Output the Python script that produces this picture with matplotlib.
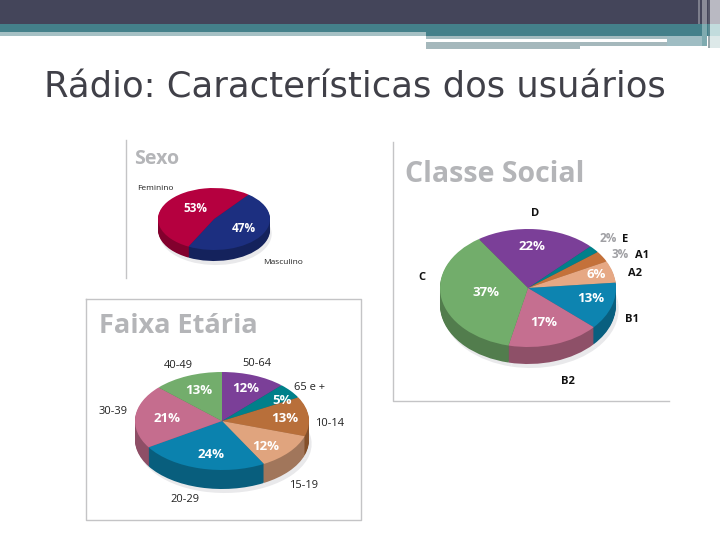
import matplotlib
matplotlib.use("Agg")
import matplotlib.pyplot as plt
from matplotlib.colors import to_rgb
from matplotlib.patches import Rectangle

W, H = 720, 540

sexo_values = [47, 53]
sexo_colors = ["#1c2f80", "#b5003f"]
sexo_pct = ["47%", "53%"]
sexo_names = ["Masculino", "Feminino"]

classe_values = [22, 2, 3, 6, 13, 17, 37]
classe_colors = ["#7b3f98", "#00808a", "#c4713a", "#e6a884", "#0d84b0", "#c56f90", "#72ad6b"]
classe_pct = ["22%", "2%", "3%", "6%", "13%", "17%", "37%"]
classe_names = ["D", "E", "A1", "A2", "B1", "B2", "C"]

faixa_values = [12, 5, 13, 12, 24, 21, 13]
faixa_colors = ["#7b3f98", "#00808a", "#b86f3a", "#e0a47e", "#0b82ae", "#c56d8e", "#73ad6c"]
faixa_pct = ["12%", "5%", "13%", "12%", "24%", "21%", "13%"]
faixa_names = ["50-64", "65 e +", "10-14", "15-19", "20-29", "30-39", "40-49"]

fig = plt.figure(figsize=(7.2, 5.4), dpi=100, facecolor="white")

# overlay in pixel coords for the slide furniture and all the text
bg = fig.add_axes([0, 0, 1, 1])
bg.set_xlim(0, W)
bg.set_ylim(H, 0)
bg.axis("off")


def band(x0, y0, x1, y1, color):
    bg.add_patch(Rectangle((x0, y0), x1 - x0, y1 - y0, color=color, lw=0))


# --- header ---
band(0, 0, W, 24, "#44455a")
band(0, 24, W, 32, "#44808a")
band(426, 32, W, 36, "#44808a")
band(0, 32, 426, 36, "#a5c0c4")
band(426, 36, 667, 39, "#a3bbbf")
band(426, 42, 580, 49, "#a5b8bc")
band(580, 42, 667, 46, "#a5b8bc")
band(667, 36, 707, 46, "#9fbdc3")
band(698, 0, 700, 24, "#7d7e8c")
band(702, 0, 707, 24, "#8a8b98")
band(702, 24, 707, 46, "#7fabb0")
band(708, 0, 710, 24, "#555668")
band(708, 24, 710, 36, "#5a8a92")
band(708, 36, 710, 48, "#9aa8ac")
band(710, 0, W, 24, "#b9b9c2")
band(710, 24, W, 36, "#c2dcdd")
band(710, 36, W, 48, "#dde9e9")

bg.text(354.5, 87, "Rádio: Características dos usuários", fontsize=25.5, color="#404048",
        ha="center", va="center", family="DejaVu Sans")

# --- panel frames ---
frame = "#c4c4c6"
bg.plot([125.5, 125.5], [140, 278], color=frame, lw=1)
bg.plot([392.5, 392.5, 669], [142, 400.5, 400.5], color=frame, lw=1)
bg.plot([86, 361, 361, 86, 86], [299, 299, 520, 520, 299], color=frame, lw=1)


def pie_3d(cx, cy, rx, ry, depth, values, colors, start):
    # squashed pie: dark copies stacked downward make the side wall
    pad = 1.15
    ax = fig.add_axes([(cx - rx * pad) / W, 1 - (cy + ry * pad + depth + 12) / H,
                       2 * rx * pad / W, (2 * ry * pad + depth + 12) / H])
    ax.patch.set_visible(False)
    dark = [tuple(c * 0.72 for c in to_rgb(col)) for col in colors]
    step = 1 / ry
    common = dict(startangle=start, counterclock=False)
    ax.pie(values, colors=["#e9e9eb"] * len(values), center=(0.03, -(depth + 4) * step), **common)
    for k in range(depth, 0, -1):
        ax.pie(values, colors=dark, center=(0, -k * step), **common)
    ax.pie(values, colors=colors, center=(0, 0), **common)
    ax.set_aspect("auto")
    ax.set_xlim(-pad, pad)
    ax.set_ylim(-pad - (depth + 12) * step, pad)


pie_3d(214, 219, 56, 31, 11, sexo_values, sexo_colors, 52)
pie_3d(528, 288, 88, 59, 17, classe_values, classe_colors, 124)
pie_3d(222, 421, 87, 49, 19, faixa_values, faixa_colors, 90)

# text goes on a top layer so the pies do not cover it
top = fig.add_axes([0, 0, 1, 1])
top.set_xlim(0, W)
top.set_ylim(H, 0)
top.axis("off")


def labels(texts, xy, size, color, weight="bold"):
    for s, (x, y) in zip(texts, xy):
        top.text(x, y, s, fontsize=size, color=color, fontweight=weight,
                 ha="center", va="center", family="Open Sans")


title_gray = "#b4b5b8"
top.text(134, 159, "Sexo", fontsize=14, color=title_gray, fontweight="bold", va="center", family="Open Sans")
top.text(405, 174, "Classe Social", fontsize=20.5, color=title_gray, fontweight="bold", va="center",
         family="Open Sans")
top.text(99, 326, "Faixa Etária", fontsize=19.5, color=title_gray, fontweight="bold", va="center", family="Open Sans")

labels(sexo_pct, [(244, 228), (195, 209)], 8.5, "white")
labels(sexo_names, [(283, 262), (155, 189)], 6, "#222222", "normal")

labels([classe_pct[0]] + classe_pct[3:], [(532, 247), (596, 275), (591, 299), (544, 323), (486, 293)], 9.5, "white")
labels(classe_pct[1:3], [(608, 238), (620, 255)], 8.5, "#a0a0a4")
labels(classe_names, [(535, 213), (625, 239), (642, 255), (635, 273), (632, 319), (568, 381), (422, 278)],
       8, "#111111")

labels(faixa_pct, [(246, 389), (282, 400), (285, 419), (266, 446), (211, 454), (167, 419), (199, 391)], 9.5, "white")
labels(faixa_names, [(257, 364), (310, 388), (330, 424), (304, 485), (185, 499), (113, 412), (178, 366)],
       8, "#222222", "normal")

fig.savefig("out.png", dpi=100)
